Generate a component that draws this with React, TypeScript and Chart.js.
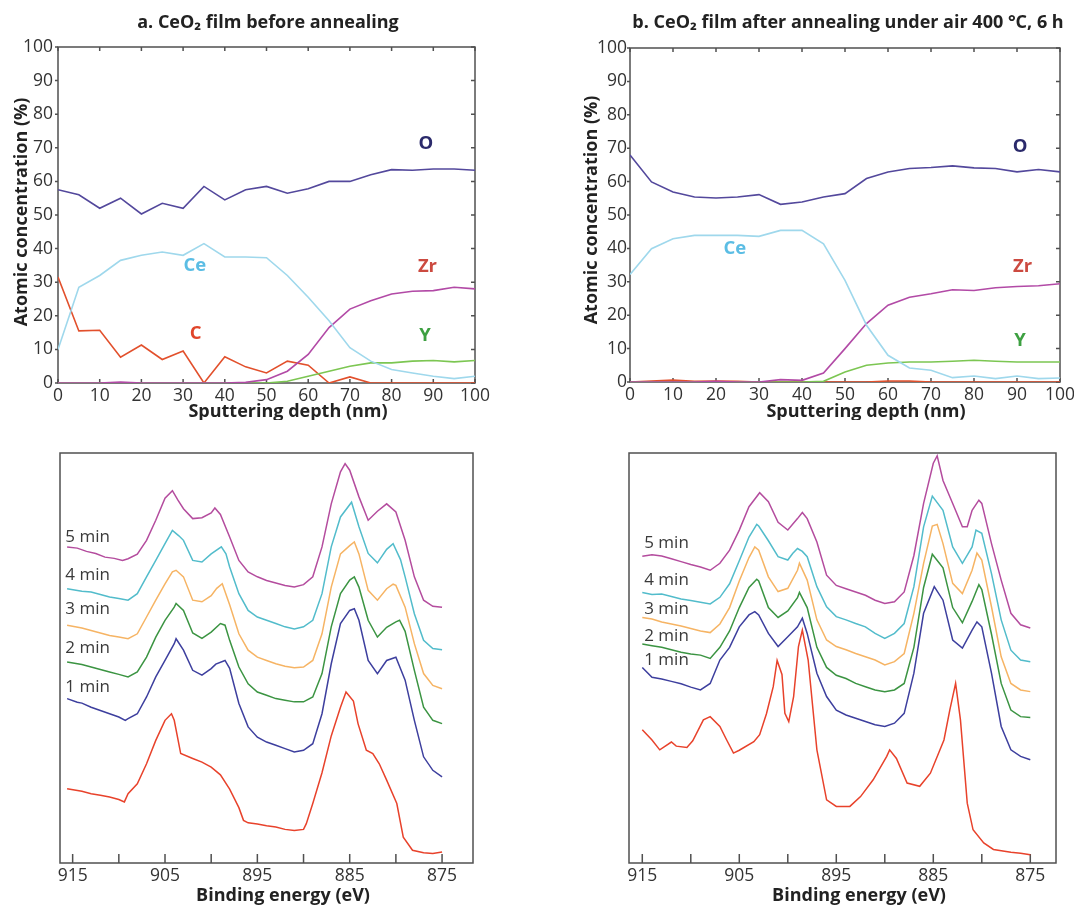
import React, { useEffect, useRef } from "react";
import { Chart, registerables } from "chart.js";
Chart.register(...registerables);

const FONT = "'Open Sans', sans-serif";

// ---------- Depth profiles (atomic concentration %, vs sputtering depth nm) ----------
const depthNm = [0, 5, 10, 15, 20, 25, 30, 35, 40, 45, 50, 55, 60, 65, 70, 75, 80, 85, 90, 95, 100];
const depthTicks = [0, 10, 20, 30, 40, 50, 60, 70, 80, 90, 100];
const concTicks = [0, 10, 20, 30, 40, 50, 60, 70, 80, 90, 100];

// panel a: before annealing
const oA = [57.5, 56, 52, 55, 50.3, 53.5, 52, 58.5, 54.5, 57.5, 58.5, 56.5, 57.8, 60, 60, 62, 63.5, 63.3, 63.7, 63.7, 63.3];
const ceA = [10, 28.5, 32, 36.5, 38, 39, 38, 41.5, 37.5, 37.5, 37.3, 32, 25.5, 18.5, 10.5, 6.5, 4, 3, 2, 1.3, 2];
const cA = [31.5, 15.5, 15.7, 7.7, 11.3, 7, 9.5, 0, 7.8, 4.8, 3, 6.5, 5.3, 0, 1.8, 0, 0, 0, 0, 0, 0];
const zrA = [0, 0, 0, 0.3, 0, 0, 0, 0, 0, 0.2, 1, 3.5, 8.5, 16.5, 22, 24.5, 26.5, 27.3, 27.5, 28.5, 28];
const yA = [0, 0, 0, 0, 0, 0, 0, 0, 0, 0, 0, 0.5, 2, 3.5, 5, 6, 6, 6.5, 6.7, 6.3, 6.7];

// panel b: after annealing under air 400 °C, 6 h
const oB = [68, 59.9, 56.9, 55.4, 55.1, 55.4, 56.1, 53.2, 53.9, 55.4, 56.4, 60.9, 62.9, 63.9, 64.2, 64.7, 64.1, 63.9, 62.9, 63.6, 62.9];
const ceB = [32.2, 39.9, 42.9, 43.9, 43.9, 43.9, 43.6, 45.4, 45.4, 41.4, 30.4, 17, 8, 4.2, 3.5, 1.3, 1.8, 1, 1.8, 1, 1.2];
const cB = [0, 0.3, 0.6, 0.2, 0.3, 0.2, 0, 0, 0, 0, 0, 0, 0.3, 0.3, 0, 0, 0, 0, 0, 0, 0];
const zrB = [0, 0, 0, 0, 0.2, 0, 0, 0.7, 0.5, 2.7, 10, 17.5, 23, 25.4, 26.4, 27.6, 27.4, 28.2, 28.6, 28.8, 29.4];
const yB = [0, 0, 0, 0, 0, 0, 0, 0, 0, 0.2, 3, 5, 5.7, 6, 6, 6.2, 6.5, 6.2, 6, 6, 6];

// ---------- Ce 3d XPS spectra ([binding energy eV, intensity a.u.]) ----------
const energyTicks = [875, 880, 885, 890, 895, 900, 905, 910, 915];
type Pt = [number, number];

// panel a
const min5A: Pt[] = [[915.6,77.1],[914.5,76.8],[913.5,76.0],[912.5,75.5],[911.5,74.6],[910.5,74.3],[909.6,73.8],[909,74.2],[908,75.3],[907,78.7],[906,83.6],[905,89.0],[904.2,90.8],[903.6,88.5],[903,86.4],[902,84.0],[901,84.2],[900,85.4],[899.6,86.6],[899,85.0],[898,79.5],[897,73.8],[896,71.0],[895,69.8],[894,68.9],[893,68.3],[892,67.7],[891,67.3],[890,67.9],[889,69.8],[888,77.1],[887,87.6],[886,95.4],[885.5,97.4],[885,95.8],[884,89.3],[883,83.6],[882,85.8],[881,87.6],[880,85.6],[879,78.7],[878,69.8],[877,64.1],[876,62.6],[875,62.4]];
const min4A: Pt[] = [[915.6,66.9],[914,66.3],[913,66.1],[912,65.5],[911,64.9],[910,64.5],[909,64.1],[908,65.7],[907,69.8],[906,73.8],[905,77.9],[904.2,81.1],[903.5,79.8],[903,78.7],[902,73.8],[901,73.4],[900,75.4],[898.9,77.1],[898.4,75.4],[898,72.2],[897,65.7],[896,61.6],[895,60.0],[894,59.2],[893,58.4],[892,57.6],[891,57.1],[890,57.6],[889,59.2],[888,65.7],[887,77.1],[886,84.4],[884.8,88.0],[884,82.0],[883,75.5],[882,73.2],[881,76.5],[880.3,77.9],[879.5,74],[879,69.8],[878,60.8],[877,54.3],[876,52.3],[875,52.0]];
const min3A: Pt[] = [[915.6,58.0],[914,57.3],[913,56.7],[912,56.1],[911,55.5],[910,55.1],[909,54.7],[908,55.9],[907,60.0],[906,64.1],[905,68.1],[904.2,71.0],[903.8,71.4],[903,69.8],[902,64.1],[901,63.7],[900,65.2],[899.4,67],[898.8,68.1],[898,63],[897,55.9],[896,51.9],[895,50.2],[894,49.4],[893,48.6],[892,48.0],[891,47.6],[890,47.8],[889,49.4],[888,55.9],[887,67.3],[886,75.4],[885,77.4],[884.5,78.3],[884,75.4],[883,66.5],[882,64.1],[881,66.9],[880.3,68],[880,67.7],[879,62.4],[878,53.5],[877,46.2],[876,43.3],[875,42.5]];
const min2A: Pt[] = [[915.6,49.0],[914,48.4],[913,47.8],[912,47.2],[911,46.6],[910,46.0],[909,45.4],[908,46.6],[907,50.2],[906,55.1],[905,59.2],[904,62.4],[903.8,63.3],[903,61.6],[902,56.1],[901,54.8],[900,56.3],[899,58.4],[898.5,58.0],[898,54.3],[897,47.8],[896,43.7],[895,41.7],[894,40.9],[893,40.1],[892,39.7],[891,39.3],[890,39.3],[889,40.5],[888,46.2],[887,57.6],[886,65.7],[885,69.0],[884.5,69.8],[884,67.3],[883,59.2],[882,55.1],[881,57.5],[880,58.8],[879.6,59.2],[879,56.5],[878,47],[877,38.0],[876,34.8],[875,34.0]];
const min1A: Pt[] = [[915.6,40.1],[914.5,39.2],[914,39.0],[913,38.0],[912,37.2],[911,36.4],[910,35.6],[909.3,34.8],[909,35.2],[908,36.4],[907,40.5],[906,45.4],[905,49.4],[904,53.5],[903.8,54.7],[903,51.9],[902,47.0],[901,45.8],[900,47.4],[899.5,48.5],[898.5,49.4],[898,47.5],[897,38.9],[896,33.2],[895,30.7],[894,29.5],[893,28.7],[892,27.9],[891,27.1],[890,27.5],[889,29.1],[888,36.4],[887,48.6],[886,58.4],[885,61.6],[884.5,62.0],[884,59.2],[883,49.4],[882,46.2],[881,49.4],[880,50.2],[879,44.6],[878,34.8],[877,25.9],[876,22.6],[875,21.0]];
const min0A: Pt[] = [[915.6,18.1],[914,17.5],[913,16.9],[912,16.5],[911,16.1],[910,15.5],[909.4,14.9],[909,16.9],[908,19.3],[907,24.2],[906,29.9],[905,34.8],[904.3,36.4],[904,34.8],[903.3,26.7],[902,25.5],[901,24.6],[900,23.4],[899,21.5],[898,18],[897,13.5],[896.5,10.4],[896,9.8],[895,9.5],[894,9.1],[893,8.8],[892,8.2],[891,7.9],[890,8.2],[889.7,9.6],[889,14.5],[888,22],[887,31],[886,38],[885.4,41.7],[884.6,39.5],[884.1,34],[883.2,27.5],[882.5,26.7],[881.8,24.2],[881,20.2],[879.9,14.5],[879.2,6.3],[878.2,3.1],[877,2.5],[876,2.3],[875,2.7]];

// panel b
const min5B: Pt[] = [[915,74.8],[914,75.2],[913,74.9],[912,74.2],[911,73.5],[910,72.8],[909,72.2],[908,71.4],[907,73.1],[906,76.3],[905,81.2],[904,86.9],[902.9,90.3],[902,88.1],[901,83.1],[900,81.2],[899,84.0],[898.5,85.5],[898,84.0],[897,78.3],[896,70.2],[895,67.7],[894,66.9],[893,66.1],[892,65.3],[891,64.1],[890,63.3],[889,63.7],[888,66.1],[887,75.0],[886,87.7],[885,97.5],[884.6,99.3],[884,93.3],[883,87.7],[882,82.0],[881.5,82.0],[881,86.0],[880.3,88.5],[880,87.7],[879,77.9],[878,69.0],[877,60.9],[876,58.1],[875,57.3]];
const min4B: Pt[] = [[915,66.0],[914,65.5],[913,65.6],[912,65],[911,64.4],[910,64],[909,63.6],[908,63.2],[907,64.8],[906,68.1],[905,73.7],[904,79.5],[903.2,82.6],[903,82.2],[902,78.6],[901,74.7],[900,73.9],[899.5,75.5],[899,76.7],[898.5,76],[898,74.7],[897,67.4],[896,62.5],[895,60.1],[894,59.3],[893,58.4],[892,57.6],[891,56.0],[890,54.8],[889,56.0],[888,58.4],[887,67.4],[886,82.0],[885.1,89.5],[884,86.0],[883,77.1],[882,73.1],[881,77.1],[880.6,81.2],[880,80.4],[879,70.6],[878,59.3],[877,51.9],[876,49.5],[875,49.1]];
const min3B: Pt[] = [[915,59.9],[914,59.5],[913,58.8],[912,58.3],[911,57.8],[910,57.2],[909,56.6],[908,56.2],[907,58.3],[906,62.3],[905,68.8],[904,74.5],[903.4,77.1],[903,76.3],[902,69.8],[901,66.2],[900,67.0],[899,71.4],[898.8,73.1],[898,69.0],[897,59.3],[896,54.4],[895,52.8],[894,52.0],[893,51.1],[892,50.3],[891,49.5],[890,48.3],[889,49.1],[888,51.1],[887,60.9],[886,73.1],[885.1,82.2],[884.6,82.6],[884,77.9],[883,68.2],[882,65.7],[881,71.4],[880.5,75.6],[880,73.9],[879,62.5],[878,50.3],[877,43.8],[876,42.2],[875,41.8]];
const min2B: Pt[] = [[915,53.4],[914,53],[913,52.6],[912,52],[911,51.4],[910,51],[909,50.7],[908,49.9],[907,52.6],[906,56.6],[905,62.3],[904,67.2],[903.2,69.2],[903,68.8],[902,62.3],[901,59.9],[900,61.5],[899,64.7],[898.8,66.0],[898,62.3],[897,52.6],[896,47.7],[895,45.8],[894,45.0],[893,43.8],[892,43.0],[891,42.2],[890,41.8],[889,42.2],[888,43.8],[887,52.6],[886,67.2],[885.1,75.3],[884,72.0],[883,62.3],[882,58.6],[881,63.8],[880.3,67.9],[880,66.7],[879,55.8],[878,43.8],[877,37.3],[876,35.7],[875,35.5]];
const min1B: Pt[] = [[915,47.7],[914,45.3],[913,44.9],[912,44.3],[911,43.7],[910,42.9],[909,42.2],[908,43.8],[907,49.5],[906,52.6],[905,57.6],[904,60.5],[903.4,61.3],[903,60.5],[902,56.0],[901,52.8],[900,55.2],[899,57.6],[898.5,59.7],[898,56.0],[897,46.3],[896,40.6],[895,37.3],[894,36.1],[893,35.3],[892,34.5],[891,33.7],[890,33.3],[889,34.1],[888,36.5],[887,46.3],[886,60.9],[884.9,67.4],[884,64.1],[883,54.4],[882,52.4],[881,56.8],[880.5,58.8],[880,57.6],[879,46.3],[878,33.3],[877,27.6],[876,26.0],[875,25.2]];
const min0B: Pt[] = [[915,32.5],[914,30],[913.2,27.6],[912,29.5],[911.5,28.5],[910.4,28.2],[909.8,29.8],[908.7,34.9],[908,35.7],[907,33.3],[906.3,30],[905.6,26.8],[905,27.5],[903.5,29.6],[902.9,31.3],[902.2,36.4],[901.5,43],[901.1,49.4],[900.6,46],[900.3,36.5],[899.9,34.5],[899.4,40.6],[898.9,52.8],[898.5,56.8],[897.9,49.5],[897,27.6],[896,15.4],[895,13.8],[893.6,13.8],[892.5,16.2],[891.2,20.3],[889.8,26],[889.5,27.6],[888.8,25.5],[887.7,19.5],[886.4,18.7],[885.3,21.9],[883.9,30],[883.3,37.3],[882.7,43.8],[882.2,34.9],[881.5,14.6],[880.9,8.1],[879.8,4.9],[878.8,3.3],[877,2.6],[876,2.4],[875,2.0]];

// ---------- helpers ----------
type TextItem = {
  text: string; x: number; y: number; color: string; size: number;
  bold?: boolean; align?: CanvasTextAlign; data?: boolean; rotate?: boolean;
};

type FrameOpts = {
  xTicks: number[]; yTicks?: number[]; top: boolean; tickLen: number;
  leftOut?: number; right?: boolean; texts: TextItem[];
};

function makeOverlay(o: FrameOpts) {
  return {
    id: "overlay",
    beforeDatasetsDraw(chart: any) {
      const { ctx, chartArea: a, scales } = chart;
      ctx.save();
      ctx.strokeStyle = "#505050";
      ctx.lineWidth = 1.5;
      ctx.strokeRect(a.left, a.top, a.right - a.left, a.bottom - a.top);
      ctx.beginPath();
      for (const v of o.xTicks) {
        const px = scales.x.getPixelForValue(v);
        ctx.moveTo(px, a.bottom);
        ctx.lineTo(px, a.bottom - o.tickLen);
        if (o.top) {
          ctx.moveTo(px, a.top);
          ctx.lineTo(px, a.top + o.tickLen);
        }
      }
      if (o.yTicks) {
        for (const v of o.yTicks) {
          const py = scales.y.getPixelForValue(v);
          if (o.leftOut) {
            ctx.moveTo(a.left - o.leftOut, py);
            ctx.lineTo(a.left, py);
          }
          if (o.right) {
            ctx.moveTo(a.right, py);
            ctx.lineTo(a.right - o.tickLen, py);
          }
        }
      }
      ctx.stroke();
      ctx.restore();
    },
    afterDraw(chart: any) {
      const { ctx, scales } = chart;
      ctx.save();
      for (const t of o.texts) {
        const x = t.data ? scales.x.getPixelForValue(t.x) : t.x;
        const y = t.data ? scales.y.getPixelForValue(t.y) : t.y;
        ctx.font = `${t.bold ? "bold " : ""}${t.size}px ${FONT}`;
        ctx.fillStyle = t.color;
        ctx.textAlign = t.align || "center";
        ctx.textBaseline = "middle";
        if (t.rotate) {
          ctx.save();
          ctx.translate(x, y);
          ctx.rotate(-Math.PI / 2);
          ctx.fillText(t.text, 0, 0);
          ctx.restore();
        } else {
          ctx.fillText(t.text, x, y);
        }
      }
      ctx.restore();
    },
  };
}

const tickFont = { family: FONT, size: 17.5 };
const TICK_COLOR = "#333333";
const TITLE_SIZE = 18;
const LABEL_SIZE = 18.5;
const MIN_SIZE = 17;

type Series = { name: string; values: number[]; color: string };

function topConfig(p: {
  series: Series[]; yWidth: number; yPad: number; padRight: number; padTop: number; xHeight: number; texts: TextItem[];
}): any {
  return {
    type: "line",
    data: {
      datasets: p.series.map((s) => ({
        label: s.name,
        data: depthNm.map((d, i) => ({ x: d, y: s.values[i] })),
        borderColor: s.color,
        borderWidth: 1.6,
        pointRadius: 0,
        tension: 0,
        fill: false,
      })),
    },
    options: {
      animation: false,
      responsive: false,
      maintainAspectRatio: false,
      layout: { padding: { left: 0, right: p.padRight, top: p.padTop, bottom: 0 } },
      plugins: { legend: { display: false }, tooltip: { enabled: false }, title: { display: false } },
      scales: {
        x: {
          type: "linear", min: 0, max: 100,
          grid: { display: false, drawTicks: false }, border: { display: false },
          afterBuildTicks: (s: any) => { s.ticks = depthTicks.map((v) => ({ value: v })); },
          ticks: { font: tickFont, color: TICK_COLOR, padding: 3, maxRotation: 0, autoSkip: false },
          afterFit: (s: any) => { s.height = p.xHeight; },
        },
        y: {
          type: "linear", min: 0, max: 100,
          grid: { display: false, drawTicks: false }, border: { display: false },
          afterBuildTicks: (s: any) => { s.ticks = concTicks.map((v) => ({ value: v })); },
          ticks: { font: tickFont, color: TICK_COLOR, padding: p.yPad, autoSkip: false },
          afterFit: (s: any) => { s.width = p.yWidth; },
        },
      },
    },
    plugins: [
      makeOverlay({ xTicks: depthTicks, yTicks: concTicks, top: true, tickLen: 4, leftOut: 3, right: true, texts: p.texts }),
    ],
  };
}

type Spectrum = { name: string; pts: Pt[]; color: string };

function bottomConfig(p: {
  spectra: Spectrum[]; min: number; max: number; padLeft: number; padRight: number; padTop: number; xHeight: number; texts: TextItem[];
}): any {
  return {
    type: "line",
    data: {
      datasets: p.spectra.map((s) => ({
        label: s.name,
        data: s.pts.map(([e, v]) => ({ x: e, y: v })),
        borderColor: s.color,
        borderWidth: 1.5,
        pointRadius: 0,
        tension: 0,
        fill: false,
      })),
    },
    options: {
      animation: false,
      responsive: false,
      maintainAspectRatio: false,
      layout: { padding: { left: p.padLeft, right: p.padRight, top: p.padTop, bottom: 0 } },
      plugins: { legend: { display: false }, tooltip: { enabled: false }, title: { display: false } },
      scales: {
        x: {
          type: "linear", min: p.min, max: p.max, reverse: true,
          grid: { display: false, drawTicks: false }, border: { display: false },
          afterBuildTicks: (s: any) => { s.ticks = energyTicks.map((v) => ({ value: v })); },
          ticks: {
            font: tickFont, color: TICK_COLOR, padding: 2.5, maxRotation: 0, autoSkip: false,
            callback: (v: any) => ((Number(v) - 875) % 10 === 0 ? String(v) : ""),
          },
          afterFit: (s: any) => { s.height = p.xHeight; },
        },
        y: { type: "linear", min: 0, max: 100, display: false },
      },
    },
    plugins: [makeOverlay({ xTicks: energyTicks, top: false, tickLen: 9, texts: p.texts })],
  };
}

// ---------- colours ----------
const C_O = "#53489c";
const C_CE = "#9fd8ec";
const C_ZR = "#b24aa6";
const C_C = "#e2502c";
const C_Y = "#7cc652";
const L_O = "#2b2a6b";
const L_CE = "#5bbde4";
const L_ZR = "#cc4a40";
const L_C = "#e0452a";
const L_Y = "#3da041";

const SP_5 = "#b44c9e";
const SP_4 = "#52bccb";
const SP_3 = "#f6b464";
const SP_2 = "#3b9442";
const SP_1 = "#3d3f9e";
const SP_0 = "#e8422b";
const TXT = "#3a3a3a";
const HEAD = "#222222";

function topA() {
  return topConfig({
    series: [
      { name: "O", values: oA, color: C_O },
      { name: "Ce", values: ceA, color: C_CE },
      { name: "Zr", values: zrA, color: C_ZR },
      { name: "Y", values: yA, color: C_Y },
      { name: "C", values: cA, color: C_C },
    ],
    yWidth: 58, yPad: 5, padRight: 65, padTop: 47, xHeight: 37,
    texts: [
      { text: "a. CeO\u2082 film before annealing", x: 268, y: 23, color: HEAD, size: TITLE_SIZE, bold: true },
      { text: "Atomic concentration (%)", x: 22, y: 212, color: HEAD, size: TITLE_SIZE, bold: true, rotate: true },
      { text: "Sputtering depth (nm)", x: 288, y: 412, color: HEAD, size: TITLE_SIZE, bold: true },
      { text: "O", x: 88.2, y: 71.2, color: L_O, size: LABEL_SIZE, bold: true, data: true },
      { text: "Ce", x: 32.8, y: 35, color: L_CE, size: LABEL_SIZE, bold: true, data: true },
      { text: "Zr", x: 88.6, y: 34.5, color: L_ZR, size: LABEL_SIZE, bold: true, data: true },
      { text: "C", x: 33, y: 14.7, color: L_C, size: LABEL_SIZE, bold: true, data: true },
      { text: "Y", x: 88, y: 14.2, color: L_Y, size: LABEL_SIZE, bold: true, data: true },
    ],
  });
}

function topB() {
  return topConfig({
    series: [
      { name: "O", values: oB, color: C_O },
      { name: "Ce", values: ceB, color: C_CE },
      { name: "Zr", values: zrB, color: C_ZR },
      { name: "Y", values: yB, color: C_Y },
      { name: "C", values: cB, color: C_C },
    ],
    yWidth: 90, yPad: 3, padRight: 20, padTop: 48, xHeight: 38,
    texts: [
      { text: "b. CeO\u2082 film after annealing under air 400 \u00B0C, 6 h", x: 308, y: 23, color: HEAD, size: TITLE_SIZE, bold: true },
      { text: "Atomic concentration (%)", x: 52, y: 210, color: HEAD, size: TITLE_SIZE, bold: true, rotate: true },
      { text: "Sputtering depth (nm)", x: 326, y: 412, color: HEAD, size: TITLE_SIZE, bold: true },
      { text: "O", x: 90.7, y: 70.4, color: L_O, size: LABEL_SIZE, bold: true, data: true },
      { text: "Ce", x: 24.4, y: 40, color: L_CE, size: LABEL_SIZE, bold: true, data: true },
      { text: "Zr", x: 91.3, y: 34.4, color: L_ZR, size: LABEL_SIZE, bold: true, data: true },
      { text: "Y", x: 90.7, y: 12.5, color: L_Y, size: LABEL_SIZE, bold: true, data: true },
    ],
  });
}

function botA() {
  return bottomConfig({
    spectra: [
      { name: "0 min", pts: min0A, color: SP_0 },
      { name: "1 min", pts: min1A, color: SP_1 },
      { name: "2 min", pts: min2A, color: SP_2 },
      { name: "3 min", pts: min3A, color: SP_3 },
      { name: "4 min", pts: min4A, color: SP_4 },
      { name: "5 min", pts: min5A, color: SP_5 },
    ],
    min: 871.65, max: 916.37, padLeft: 60, padRight: 67, padTop: 33, xHeight: 44,
    texts: [
      { text: "Binding energy (eV)", x: 283, y: 476, color: HEAD, size: TITLE_SIZE, bold: true },
      { text: "5 min", x: 915.8, y: 79.5, color: TXT, size: MIN_SIZE, align: "left", data: true },
      { text: "4 min", x: 915.8, y: 70.3, color: TXT, size: MIN_SIZE, align: "left", data: true },
      { text: "3 min", x: 915.8, y: 62.0, color: TXT, size: MIN_SIZE, align: "left", data: true },
      { text: "2 min", x: 915.8, y: 52.3, color: TXT, size: MIN_SIZE, align: "left", data: true },
      { text: "1 min", x: 915.8, y: 42.9, color: TXT, size: MIN_SIZE, align: "left", data: true },
    ],
  });
}

function botB() {
  return bottomConfig({
    spectra: [
      { name: "0 min", pts: min0B, color: SP_0 },
      { name: "1 min", pts: min1B, color: SP_1 },
      { name: "2 min", pts: min2B, color: SP_2 },
      { name: "3 min", pts: min3B, color: SP_3 },
      { name: "4 min", pts: min4B, color: SP_4 },
      { name: "5 min", pts: min5B, color: SP_5 },
    ],
    min: 872.35, max: 916.37, padLeft: 89, padRight: 24, padTop: 33, xHeight: 44,
    texts: [
      { text: "Binding energy (eV)", x: 319, y: 476, color: HEAD, size: TITLE_SIZE, bold: true },
      { text: "5 min", x: 914.8, y: 78.0, color: TXT, size: MIN_SIZE, align: "left", data: true },
      { text: "4 min", x: 914.8, y: 69.0, color: TXT, size: MIN_SIZE, align: "left", data: true },
      { text: "3 min", x: 914.8, y: 62.0, color: TXT, size: MIN_SIZE, align: "left", data: true },
      { text: "2 min", x: 914.8, y: 55.3, color: TXT, size: MIN_SIZE, align: "left", data: true },
      { text: "1 min", x: 914.8, y: 49.4, color: TXT, size: MIN_SIZE, align: "left", data: true },
    ],
  });
}

function ChartBox(props: { left: number; top: number; width: number; height: number; make: () => any }) {
  const ref = useRef<HTMLCanvasElement>(null);
  useEffect(() => {
    const chart = new Chart(ref.current as HTMLCanvasElement, props.make());
    return () => chart.destroy();
  }, []);
  return (
    <canvas
      ref={ref}
      width={props.width}
      height={props.height}
      style={{ position: "absolute", left: props.left, top: props.top, width: props.width, height: props.height, display: "block" }}
    />
  );
}

export default function App() {
  return (
    <div style={{ position: "absolute", left: 0, top: 0, width: 1074, height: 907, overflow: "hidden", background: "#ffffff" }}>
      <ChartBox left={0} top={0} width={540} height={420} make={topA} />
      <ChartBox left={540} top={0} width={540} height={420} make={topB} />
      <ChartBox left={0} top={420} width={540} height={487} make={botA} />
      <ChartBox left={540} top={420} width={540} height={487} make={botB} />
    </div>
  );
}
